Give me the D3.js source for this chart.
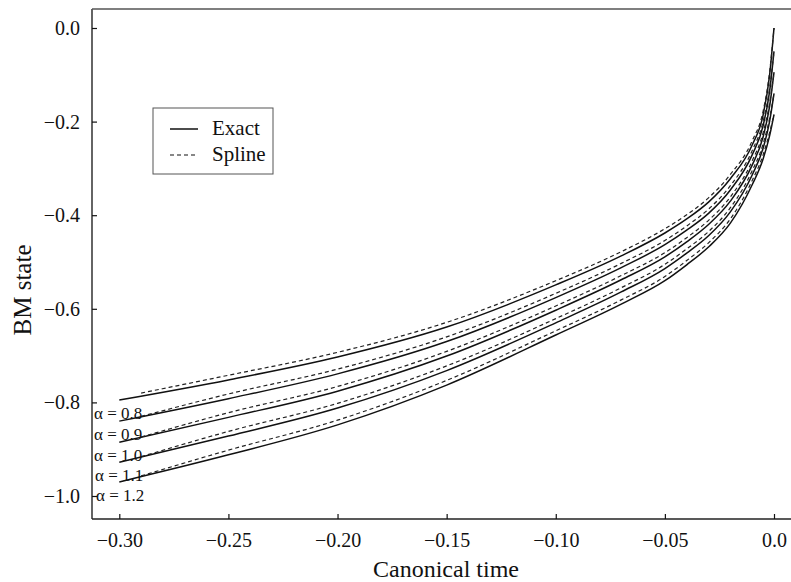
<!DOCTYPE html>
<html><head><meta charset="utf-8">
<script src="https://cdn.jsdelivr.net/npm/d3@7"></script>
<style>body{margin:0;background:#fff}svg{display:block}</style>
</head><body><svg id="c" width="791" height="582"></svg>
<script>
const alphas = ["0.8","0.9","1.0","1.1","1.2"];
const exactT = [-0.30,-0.25,-0.20,-0.15,-0.10,-0.07,-0.05,-0.04,-0.03,-0.02,-0.01,-0.005,-0.002,0];
const exact08 = [-0.795,-0.752,-0.703,-0.639,-0.549,-0.487,-0.438,-0.408,-0.372,-0.322,-0.250,-0.186,-0.100,0.000];
const exact09 = [-0.840,-0.792,-0.739,-0.670,-0.576,-0.512,-0.463,-0.432,-0.396,-0.346,-0.271,-0.209,-0.135,-0.050];
const exact10 = [-0.885,-0.832,-0.776,-0.701,-0.603,-0.538,-0.489,-0.457,-0.420,-0.370,-0.293,-0.233,-0.167,-0.095];
const exact11 = [-0.928,-0.872,-0.812,-0.732,-0.630,-0.564,-0.514,-0.481,-0.444,-0.393,-0.314,-0.257,-0.199,-0.140];
const exact12 = [-0.970,-0.912,-0.848,-0.763,-0.656,-0.590,-0.540,-0.506,-0.468,-0.417,-0.335,-0.280,-0.230,-0.185];
const splineT = [-0.29,-0.25,-0.20,-0.15,-0.10,-0.07,-0.05,-0.04,-0.03,-0.02,-0.01,-0.005,-0.002,0];
const spline08 = [-0.780,-0.742,-0.693,-0.629,-0.540,-0.478,-0.429,-0.399,-0.363,-0.313,-0.241,-0.178,-0.094,0.000];
const spline09 = [-0.830,-0.782,-0.729,-0.660,-0.567,-0.503,-0.454,-0.423,-0.387,-0.337,-0.262,-0.200,-0.128,-0.050];
const spline10 = [-0.874,-0.822,-0.766,-0.691,-0.594,-0.529,-0.480,-0.448,-0.411,-0.361,-0.284,-0.224,-0.160,-0.095];
const spline11 = [-0.916,-0.862,-0.802,-0.722,-0.621,-0.555,-0.505,-0.472,-0.435,-0.384,-0.305,-0.248,-0.192,-0.140];
const spline12 = [-0.957,-0.902,-0.838,-0.753,-0.647,-0.581,-0.531,-0.497,-0.459,-0.408,-0.326,-0.271,-0.223,-0.185];
const xTicks = [-0.30,-0.25,-0.20,-0.15,-0.10,-0.05,0];
const xTickLabels = ["\u22120.30","\u22120.25","\u22120.20","\u22120.15","\u22120.10","\u22120.05","0.0"];
const yTicks = [0,-0.2,-0.4,-0.6,-0.8,-1.0];
const yTickLabels = ["0.0","\u22120.2","\u22120.4","\u22120.6","\u22120.8","\u22121.0"];
const legendLabels = ["Exact","Spline"];

const exactSeries = [exact08,exact09,exact10,exact11,exact12];
const splineSeries = [spline08,spline09,spline10,spline11,spline12];

const svg = d3.select("#c");
const font = "'Liberation Serif','Times New Roman',serif";
const x = d3.scaleLinear().domain([-0.30,0]).range([119.3,774]);
const y = d3.scaleLinear().domain([-1.0,0]).range([496,28]);
const L = 92, B = 519, T = 9, R = 791;

// frame
svg.append("line").attr("x1",L).attr("x2",L).attr("y1",T).attr("y2",B).attr("stroke","#111").attr("stroke-width",1.3);
svg.append("line").attr("x1",L).attr("x2",R).attr("y1",B).attr("y2",B).attr("stroke","#222").attr("stroke-width",1.3);
svg.append("line").attr("x1",L).attr("x2",R).attr("y1",T).attr("y2",T).attr("stroke","#555").attr("stroke-width",1.3);

// axes
const xAxis = d3.axisBottom(x).tickValues(xTicks).tickSize(-5).tickPadding(14)
  .tickFormat((d,i)=>xTickLabels[i]);
const gx = svg.append("g").attr("transform",`translate(0,${B})`).call(xAxis);
gx.select(".domain").remove();
gx.selectAll("line").attr("stroke","#111").attr("stroke-width",1.2);
gx.selectAll("text").attr("font-family",font).attr("font-size",20).attr("fill","#111").attr("dy","0.71em");

const yAxis = d3.axisLeft(y).tickValues(yTicks).tickSize(-5).tickPadding(12)
  .tickFormat((d,i)=>yTickLabels[i]);
const gy = svg.append("g").attr("transform",`translate(${L},0)`).call(yAxis);
gy.select(".domain").remove();
gy.selectAll("line").attr("stroke","#111").attr("stroke-width",1.2);
gy.selectAll("text").attr("font-family",font).attr("font-size",20).attr("fill","#111");

// titles
svg.append("text").attr("x",446).attr("y",577).attr("text-anchor","middle")
  .attr("font-family",font).attr("font-size",24).attr("fill","#111").text("Canonical time");
svg.append("text").attr("transform","translate(31,290) rotate(-90)").attr("text-anchor","middle")
  .attr("font-family",font).attr("font-size",25).attr("fill","#111").text("BM state");

// curves
const line = d3.line().curve(d3.curveMonotoneX);
exactSeries.forEach(vals=>{
  svg.append("path").attr("d",line(exactT.map((t,i)=>[x(t),y(vals[i])])))
    .attr("fill","none").attr("stroke","#111").attr("stroke-width",1.5);
});
splineSeries.forEach(vals=>{
  svg.append("path").attr("d",line(splineT.map((t,i)=>[x(t),y(vals[i])])))
    .attr("fill","none").attr("stroke","#222").attr("stroke-width",1.2).attr("stroke-dasharray","4,3");
});

// alpha labels
alphas.forEach((a,i)=>{
  svg.append("text").attr("x",94 + (i>=3? (i-2):0)).attr("y",y(exactSeries[i][0])+19)
    .attr("font-family",font).attr("font-size",17).attr("fill","#111").text("\u03B1 = "+a);
});

// legend
const lg = svg.append("g");
lg.append("rect").attr("x",153).attr("y",108).attr("width",120).attr("height",66)
  .attr("fill","none").attr("stroke","#555").attr("stroke-width",1);
legendLabels.forEach((lab,i)=>{
  const yy = 129 + i*26;
  lg.append("line").attr("x1",170).attr("x2",198).attr("y1",yy).attr("y2",yy)
    .attr("stroke","#111").attr("stroke-width",i?1.2:1.5).attr("stroke-dasharray",i?"4,3":null);
  lg.append("text").attr("x",212).attr("y",yy+6).attr("font-family",font).attr("font-size",21)
    .attr("fill","#111").text(lab);
});
</script></body></html>
